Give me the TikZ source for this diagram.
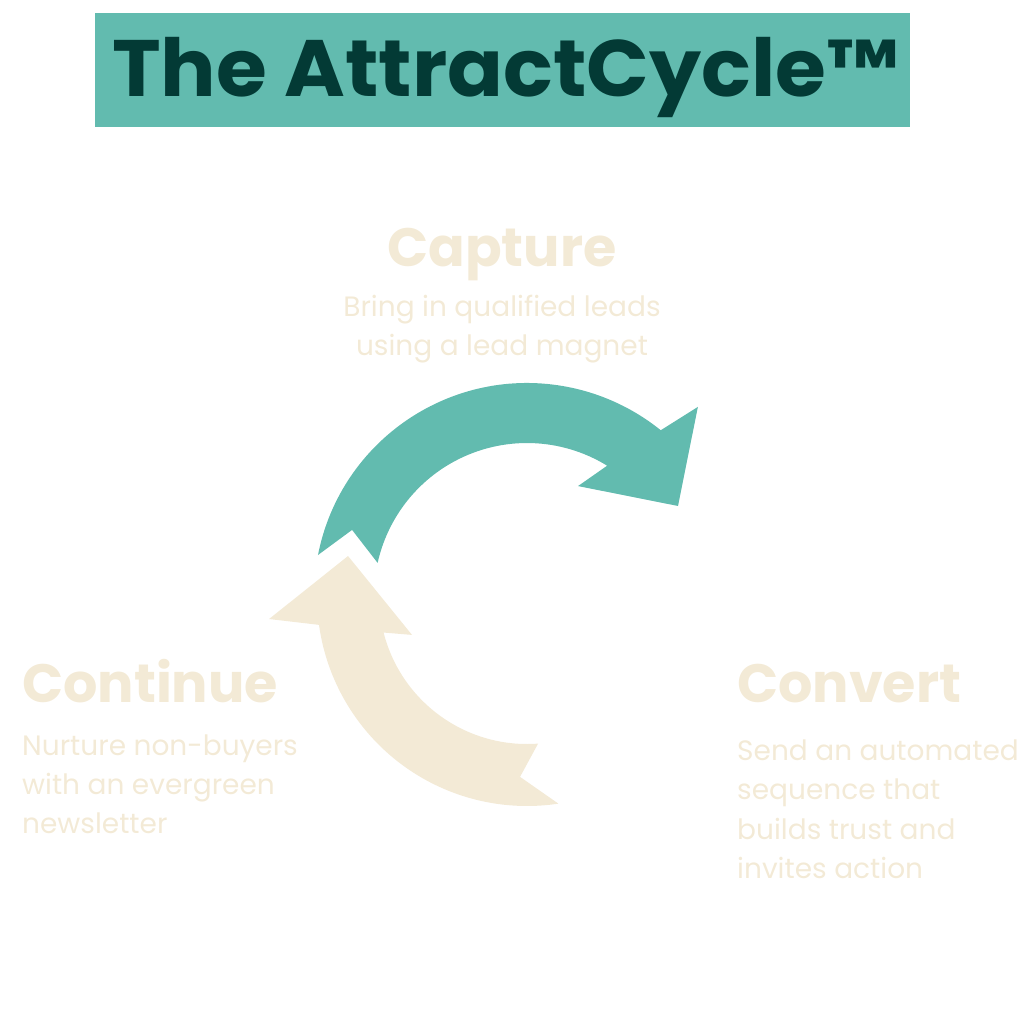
\documentclass[tikz,border=0pt]{standalone}
\usepackage{fontspec}
\setmainfont{Poppins}
\newfontfamily\headfont{Poppins}[UprightFont=* Bold]
\newfontfamily\titlefont{Poppins}[UprightFont=* Bold, FakeStretch=1.03]
\definecolor{teal}{HTML}{62BBAF}
\definecolor{darkgreen}{HTML}{033A35}
\definecolor{cream}{HTML}{F3EAD6}
\begin{document}
\begin{tikzpicture}[x=1pt,y=1pt,
  headtext/.style={inner sep=0, text=cream, font=\headfont\fontsize{54}{60}\selectfont},
  bodytext/.style={inner sep=0, text=cream, font=\fontsize{28}{39}\selectfont}]
\useasboundingbox (0,0) rectangle (1034,-1034);
% title
\node[fill=teal, minimum width=815, minimum height=114, inner sep=0, anchor=north west] (titlebox) at (95,-13) {};
\node[inner sep=0, anchor=base west, text=darkgreen, font=\titlefont\fontsize{80}{90}\selectfont] (title) at (112,-96) {The AttractCycle™};
% arrows
\begin{scope}[shift={(527,-596)}]
\fill[teal] (168.9:213) coordinate (tealtail) arc[start angle=168.9, end angle=51.1, radius=213]
  -- (47.9:254.9) -- (30.8:175.8) coordinate (teatip) -- (65.1:121.2) -- (58.4:153)
  arc[start angle=58.4, end angle=167.5, radius=153] -- (159.3:187) -- cycle;
\fill[cream] (185.1:259) -- (187.9:210) arc[start angle=187.9, end angle=278.6, radius=210]
  -- (267.8:181) -- (274.3:148) arc[start angle=274.3, end angle=194.3, radius=148]
  -- (198.7:121.4) -- (167.4:183.4) coordinate (creamtip) -- cycle;
\end{scope}
% Capture
\node[headtext, anchor=base] (capture) at (502,-266) {Capture};
\node[bodytext, anchor=base] (capture1) at (502,-316) {Bring in qualified leads};
\node[bodytext, anchor=base] (capture2) at (502,-355) {using a lead magnet};
% Continue
\node[headtext, anchor=base west] (continue) at (22,-702) {Continue};
\node[bodytext, anchor=base west] (continue1) at (22,-755) {Nurture non-buyers};
\node[bodytext, anchor=base west] (continue2) at (22,-794) {with an evergreen};
\node[bodytext, anchor=base west] (continue3) at (22,-833) {newsletter};
% Convert
\node[headtext, anchor=base west] (convert) at (737,-702) {Convert};
\node[bodytext, anchor=base west] (convert1) at (737,-760) {Send an automated};
\node[bodytext, anchor=base west] (convert2) at (737,-799) {sequence that};
\node[bodytext, anchor=base west] (convert3) at (737,-839) {builds trust and};
\node[bodytext, anchor=base west] (convert4) at (737,-878) {invites action};
\end{tikzpicture}
\end{document}
